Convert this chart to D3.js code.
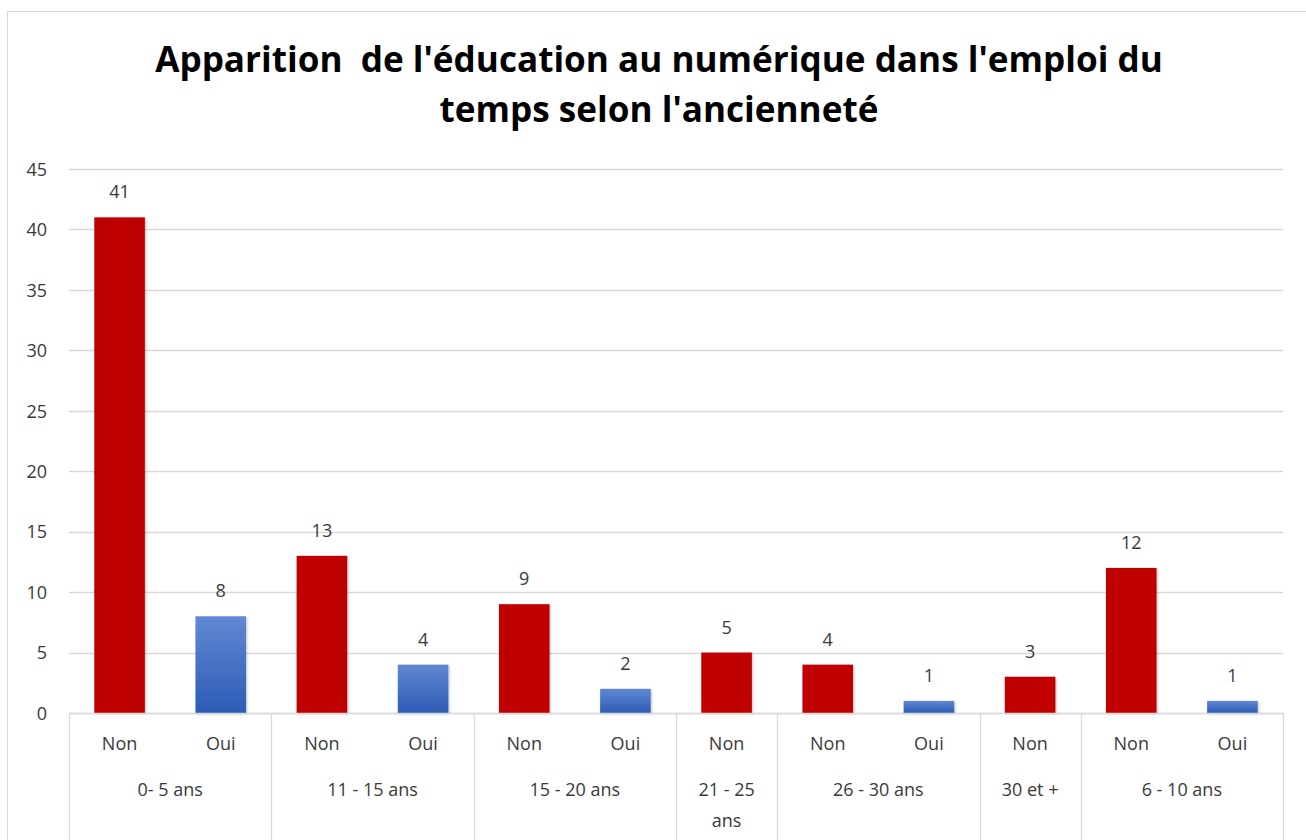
<!DOCTYPE html>
<html><head><meta charset="utf-8">
<script src="https://cdn.jsdelivr.net/npm/d3@7"></script>
<style>
body{margin:0;background:#fff;}
svg{display:block;font-family:"Open Sans",Lato,sans-serif;}
</style></head>
<body><svg id="c" width="1306" height="840"></svg>
<script>
const titleLines = ["Apparition  de l'éducation au numérique dans l'emploi du", "temps selon l'ancienneté"];
const groups = ["0- 5 ans","11 - 15 ans","15 - 20 ans","21 - 25 ans","26 - 30 ans","30 et +","6 - 10 ans"];
const leafGroup = ["0- 5 ans","0- 5 ans","11 - 15 ans","11 - 15 ans","15 - 20 ans","15 - 20 ans","21 - 25 ans","26 - 30 ans","26 - 30 ans","30 et +","6 - 10 ans","6 - 10 ans"];
const leafAnswer = ["Non","Oui","Non","Oui","Non","Oui","Non","Non","Oui","Non","Non","Oui"];
const values = [41,8,13,4,9,2,5,4,1,3,12,1];
const yTicks = [0,5,10,15,20,25,30,35,40,45];

const svg = d3.select("#c");
const W = 1306, H = 840;
const m = {left:69, right:1283, top:169, bottom:713};
const colors = {Non:"#C00000", Oui:"url(#blueGrad)"};
const txtCol = "#3a3a3a";
const fs = 18;

const defs = svg.append("defs");
const g = defs.append("linearGradient").attr("id","blueGrad").attr("x1",0).attr("y1",0).attr("x2",0).attr("y2",1);
g.append("stop").attr("offset","0%").attr("stop-color","#6088d2");
g.append("stop").attr("offset","100%").attr("stop-color","#2d5cb6");
const f = defs.append("filter").attr("id","sh").attr("x","-20%").attr("y","-20%").attr("width","140%").attr("height","140%");
f.append("feDropShadow").attr("dx",1).attr("dy",1).attr("stdDeviation",1.2).attr("flood-color","#000").attr("flood-opacity",0.25);

// outer border
svg.append("rect").attr("x",7.5).attr("y",11.5).attr("width",W+10).attr("height",H+10)
  .attr("fill","#fff").attr("stroke","#d9d9d9");

// title
const title = svg.append("text").attr("text-anchor","middle").attr("font-weight","bold")
  .attr("font-size",30).attr("fill","#000").style("white-space","pre");
titleLines.forEach((t,i)=>title.append("tspan").attr("x",659).attr("y",72+i*50).text(t));
// fit title width to reference (~1008px for first line)
const w0 = title.select("tspan").node().getComputedTextLength();
title.attr("font-size", 30*1008/w0);

const ids = values.map((d,i)=>i);
const x = d3.scaleBand().domain(ids).range([m.left,m.right]).paddingInner(0.5).paddingOuter(0.25);
const y = d3.scaleLinear().domain([0,45]).range([m.bottom,m.top]);

// gridlines
svg.append("g").selectAll("line").data(yTicks).join("line")
  .attr("x1",m.left).attr("x2",m.right)
  .attr("y1",d=>Math.round(y(d))+0.5).attr("y2",d=>Math.round(y(d))+0.5)
  .attr("stroke","#d9d9d9").attr("stroke-width",1.3);

// y axis labels
const yAxis = d3.axisLeft(y).tickValues(yTicks).tickSize(0).tickPadding(0);
const ya = svg.append("g").attr("transform",`translate(47,0)`).call(yAxis);
ya.select(".domain").remove();
ya.selectAll("text").attr("font-size",fs).attr("fill",txtCol).attr("font-family","'Open Sans',sans-serif").attr("dy","0.35em");

// bars
svg.append("g").selectAll("rect").data(ids).join("rect")
  .attr("x",i=>x(i)).attr("width",x.bandwidth())
  .attr("y",i=>y(values[i])).attr("height",i=>y(0)-y(values[i]))
  .attr("fill",i=>colors[leafAnswer[i]]).attr("filter","url(#sh)");

// data labels
svg.append("g").selectAll("text").data(ids).join("text")
  .attr("x",i=>x(i)+x.bandwidth()/2).attr("y",i=>y(values[i])-19)
  .attr("text-anchor","middle").attr("font-size",fs).attr("fill",txtCol).text(i=>values[i]);

// category axis
const step = x.step();
const axisG = svg.append("g");
axisG.selectAll("text.leaf").data(ids).join("text").attr("class","leaf")
  .attr("x",i=>x(i)+x.bandwidth()/2).attr("y",750)
  .attr("text-anchor","middle").attr("font-size",fs).attr("fill",txtCol).text(i=>leafAnswer[i]);

let start = 0;
const spans = groups.map(gr=>{
  const n = leafGroup.filter(d=>d===gr).length;
  const s = {name:gr, start, n};
  start += n; return s;
});
const gx = i => m.left + i*step;
const divs = [0, ...spans.map(s=>s.start+s.n)];
axisG.selectAll("line.div").data(divs).join("line").attr("class","div")
  .attr("x1",d=>Math.round(gx(d))+0.5).attr("x2",d=>Math.round(gx(d))+0.5)
  .attr("y1",m.bottom).attr("y2",840).attr("stroke","#d9d9d9").attr("stroke-width",1.3);
axisG.append("line").attr("x1",m.left).attr("x2",m.right).attr("y1",m.bottom+0.5).attr("y2",m.bottom+0.5)
  .attr("stroke","#d9d9d9").attr("stroke-width",1.3);

spans.forEach(s=>{
  const cx = gx(s.start) + s.n*step/2;
  const t = axisG.append("text").attr("text-anchor","middle").attr("font-size",fs).attr("fill",txtCol);
  const maxW = s.n*step - 16;
  const words = s.name.split(" ");
  let lines = [], cur = "";
  const tmp = axisG.append("text").attr("font-size",fs);
  words.forEach(wd=>{
    const test = cur ? cur+" "+wd : wd;
    tmp.text(test);
    if (tmp.node().getComputedTextLength() > maxW && cur) { lines.push(cur); cur = wd; }
    else cur = test;
  });
  lines.push(cur); tmp.remove();
  lines.forEach((l,k)=>t.append("tspan").attr("x",cx).attr("y",796+k*31).text(l));
});
</script></body></html>
